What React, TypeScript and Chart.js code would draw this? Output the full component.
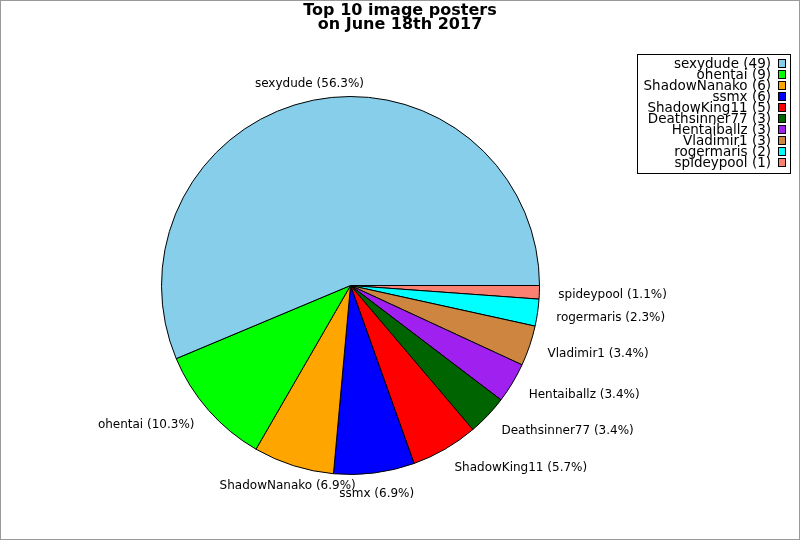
import { useEffect, useRef } from "react";
import { Chart, registerables } from "chart.js";

Chart.register(...registerables);

// posters in legend order (largest first)
const posters = [
  "sexydude",
  "ohentai",
  "ShadowNanako",
  "ssmx",
  "ShadowKing11",
  "Deathsinner77",
  "Hentaiballz",
  "Vladimir1",
  "rogermaris",
  "spideypool",
];
const imageCounts = [49, 9, 6, 6, 5, 3, 3, 3, 2, 1];
const sliceColors = [
  "#87ceeb",
  "#00ff00",
  "#ffa500",
  "#0000ff",
  "#ff0000",
  "#006400",
  "#a020f0",
  "#cd853f",
  "#00ffff",
  "#fa8072",
];
const titleLines = ["Top 10 image posters", "on June 18th 2017"];

const FONT = "'DejaVu Sans', sans-serif";

const total = imageCounts.reduce((a, b) => a + b, 0);

// slice labels drawn just outside each arc
const sliceLabels = {
  id: "sliceLabels",
  afterDatasetsDraw(chart: Chart) {
    const { ctx } = chart;
    const meta = chart.getDatasetMeta(0);
    const values = chart.data.datasets[0].data as number[];
    const names = chart.data.labels as string[];
    ctx.save();
    ctx.font = `12px ${FONT}`;
    ctx.fillStyle = "#000";
    ctx.textBaseline = "middle";
    meta.data.forEach((arc: any, i: number) => {
      const { x, y, startAngle, endAngle, outerRadius } = arc.getProps(
        ["x", "y", "startAngle", "endAngle", "outerRadius"],
        true
      );
      const mid = (startAngle + endAngle) / 2;
      const r = outerRadius * 1.1;
      const c = Math.cos(mid);
      ctx.textAlign = Math.abs(c) < 0.4 ? "center" : c > 0 ? "left" : "right";
      const pct = ((values[i] / total) * 100).toFixed(1);
      ctx.fillText(`${names[i]} (${pct}%)`, x + c * r, y + Math.sin(mid) * r + 2);
    });
    ctx.restore();
  },
};

// title, key box and outer frame
const decorations = {
  id: "decorations",
  beforeDraw(chart: Chart) {
    const { ctx, width, height } = chart;
    ctx.save();
    ctx.fillStyle = "#fff";
    ctx.fillRect(0, 0, width, height);
    ctx.restore();
  },
  afterDraw(chart: Chart) {
    const { ctx, width, height } = chart;
    ctx.save();
    ctx.strokeStyle = "#999";
    ctx.lineWidth = 1;
    ctx.strokeRect(0.5, 0.5, width - 1, height - 1);

    ctx.fillStyle = "#000";
    ctx.font = `bold 16px ${FONT}`;
    ctx.textAlign = "center";
    ctx.textBaseline = "middle";
    titleLines.forEach((line, i) => ctx.fillText(line, 400, 11 + i * 14));

    ctx.strokeStyle = "#000";
    ctx.strokeRect(637.5, 54.5, 153, 119);
    ctx.font = `13.5px ${FONT}`;
    ctx.textAlign = "right";
    posters.forEach((name, i) => {
      const rowY = 64 + i * 11;
      ctx.fillStyle = "#000";
      ctx.fillText(`${name} (${imageCounts[i]})`, 771, rowY);
      ctx.fillStyle = sliceColors[i];
      ctx.fillRect(778.5, rowY - 4.5, 7, 8);
      ctx.strokeRect(778.5, rowY - 4.5, 7, 8);
    });
    ctx.restore();
  },
};

const App = () => {
  const canvasRef = useRef<HTMLCanvasElement | null>(null);

  useEffect(() => {
    document.body.style.margin = "0";
    if (!canvasRef.current) return;
    // pie goes counter-clockwise from 3 o'clock, so feed it reversed
    const chart = new Chart(canvasRef.current, {
      type: "pie",
      data: {
        labels: [...posters].reverse(),
        datasets: [
          {
            data: [...imageCounts].reverse(),
            backgroundColor: [...sliceColors].reverse(),
            borderColor: "#000",
            borderWidth: 1,
          },
        ],
      },
      options: {
        responsive: false,
        animation: false,
        rotation: 90,
        layout: { padding: { left: 161, right: 260, top: 96, bottom: 65 } },
        plugins: {
          legend: { display: false },
          title: { display: false },
          tooltip: { enabled: false },
        },
      },
      plugins: [sliceLabels, decorations],
    });
    return () => chart.destroy();
  }, []);

  return <canvas ref={canvasRef} width={800} height={540} />;
};

export default App;
